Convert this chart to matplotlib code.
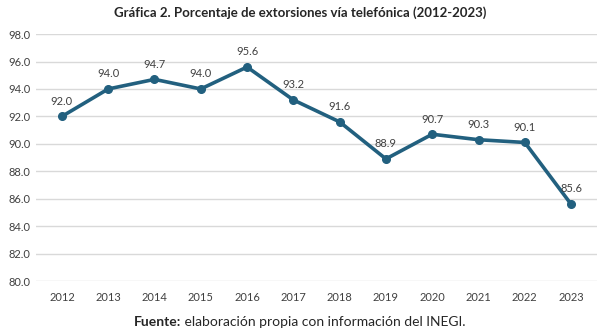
import matplotlib.pyplot as plt

plt.rcParams['font.family'] = ['Lato', 'DejaVu Sans']

years = ["2012", "2013", "2014", "2015", "2016", "2017",
         "2018", "2019", "2020", "2021", "2022", "2023"]
pct = [92.0, 94.0, 94.7, 94.0, 95.6, 93.2, 91.6, 88.9, 90.7, 90.3, 90.1, 85.6]
yticks = [80, 82, 84, 86, 88, 90, 92, 94, 96, 98]

color = "#22607f"

fig = plt.figure(figsize=(6, 3.31), dpi=100)
ax = fig.add_axes([0.06, 0.151, 0.935, 0.746])

x = list(range(len(years)))
ax.plot(x, pct, color=color, linewidth=2.6, marker="o", markersize=5.5, zorder=3)

for xi, v in zip(x, pct):
    ax.annotate(f"{v:.1f}", (xi, v), xytext=(0, 7), textcoords="offset points",
                ha="center", va="bottom", fontsize=8, color="#404040")

ax.set_xlim(-0.56, len(years) - 0.44)
ax.set_ylim(80, 98)
ax.set_yticks(yticks)
ax.set_yticklabels([f"{t:.1f}" for t in yticks])
ax.set_xticks(x)
ax.set_xticklabels(years)
ax.tick_params(length=0, labelsize=8, colors="#404040")
ax.tick_params(axis="y", pad=4)
ax.tick_params(axis="x", pad=8)
ax.grid(axis="y", color="#d9d9d9", linewidth=1)
ax.set_axisbelow(True)
for s in ax.spines.values():
    s.set_visible(False)

fig.text(0.5, 0.962, "Gráfica 2. Porcentaje de extorsiones vía telefónica (2012-2023)",
         ha="center", va="center", fontsize=9.5, fontweight="bold", color="#262626")

# source line: bold label followed by regular text, centred as a whole
renderer = fig.canvas.get_renderer()
lbl = fig.text(0, 0.028, "Fuente:", ha="left", va="center", fontsize=10,
               fontweight="bold", color="#262626")
rest = fig.text(0, 0.028, " elaboración propia con información del INEGI.",
                ha="left", va="center", fontsize=10, color="#262626")
w1 = lbl.get_window_extent(renderer).width / fig.bbox.width
w2 = rest.get_window_extent(renderer).width / fig.bbox.width
x0 = 0.5 - (w1 + w2) / 2
lbl.set_x(x0)
rest.set_x(x0 + w1)

fig.savefig("out.png", dpi=100)
